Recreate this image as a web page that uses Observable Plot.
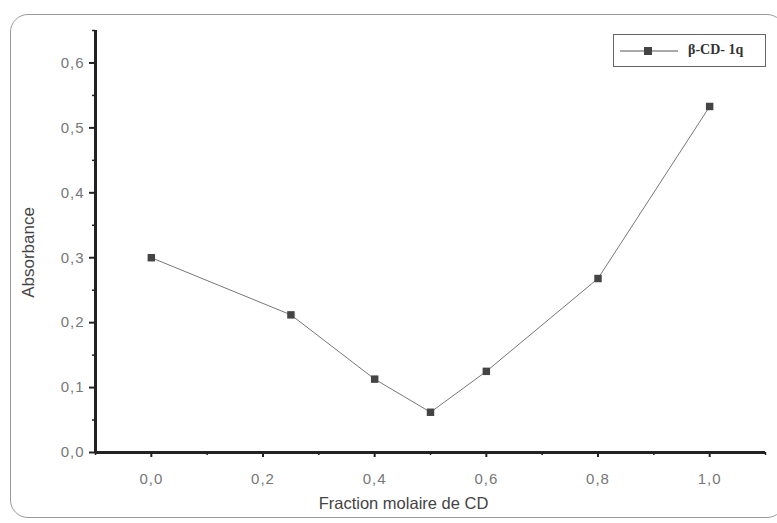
<!DOCTYPE html>
<html><head><meta charset="utf-8">
<script src="https://cdn.jsdelivr.net/npm/d3@7"></script>
<script src="https://cdn.jsdelivr.net/npm/@observablehq/plot@0.6"></script>
<style>
body{margin:0;background:#fff;}
#wrap{position:relative;width:777px;height:523px;overflow:hidden;}
#frame{position:absolute;left:10px;top:14px;width:775px;height:504px;border:1.5px solid #9a9a9a;border-radius:18px;box-sizing:border-box;}
#legend{position:absolute;left:613px;top:34px;width:153px;height:33px;border:1.2px solid #666;box-sizing:border-box;background:#fff;font-family:"Liberation Serif","DejaVu Serif",serif;font-weight:bold;font-size:14px;color:#333;}
#legend svg{position:absolute;left:0;top:0;}
#legend span{position:absolute;left:74px;top:7px;}
#chart svg g[aria-label$="tick label"] text{font-size:15px;letter-spacing:1px;}
</style></head>
<body><div id="wrap"><div id="frame"></div><div id="chart"></div>
<div id="legend"><svg width="75" height="31"><line x1="6" x2="64" y1="16" y2="16" stroke="#555" stroke-width="1"/><rect x="30" y="12" width="8" height="8" fill="#444"/></svg><span>β-CD- 1q</span></div>
</div>
<script>
const fraction = [0.0, 0.25, 0.4, 0.5, 0.6, 0.8, 1.0];
const absorbance = [0.30, 0.212, 0.113, 0.062, 0.125, 0.268, 0.533];
const xTicks = [0.0, 0.2, 0.4, 0.6, 0.8, 1.0];
const xMinor = [-0.1, 0.1, 0.3, 0.5, 0.7, 0.9, 1.1];
const yTicks = [0.0, 0.1, 0.2, 0.3, 0.4, 0.5, 0.6];
const yMinor = [0.05, 0.15, 0.25, 0.35, 0.45, 0.55, 0.65];
const data = fraction.map((f, i) => ({x: f, y: absorbance[i]}));
const fmt = d => d.toFixed(1).replace(".", ",");

const chart = Plot.plot({
  width: 777, height: 523,
  marginLeft: 95, marginRight: 12, marginTop: 30, marginBottom: 71,
  style: {fontFamily: "'Liberation Sans', Arial, sans-serif", fontSize: "14px", color: "#555", background: "transparent"},
  x: {domain: [-0.1, 1.1]},
  y: {domain: [0, 0.65]},
  marks: [
    Plot.axisX(xTicks, {tickSize: 5, tickPadding: 16, tickFormat: fmt, stroke: "#222", strokeWidth: 2, fill: "#777", label: null}),
    Plot.axisX(xMinor, {tickSize: 3, tickFormat: () => "", stroke: "#222", strokeWidth: 1.5, label: null}),
    Plot.axisY(yTicks, {tickSize: 6, tickPadding: 5, tickFormat: fmt, stroke: "#222", strokeWidth: 2, fill: "#777", label: null}),
    Plot.axisY(yMinor, {tickSize: 3, tickFormat: () => "", stroke: "#222", strokeWidth: 1.5, label: null}),
    Plot.ruleY([0], {stroke: "#222", strokeWidth: 3}),
    Plot.ruleX([-0.1], {stroke: "#222", strokeWidth: 3}),
    Plot.line(data, {x: "x", y: "y", stroke: "#777", strokeWidth: 1}),
    Plot.dot(data, {x: "x", y: "y", symbol: "square", r: 4.2, fill: "#444", stroke: "none"}),
    Plot.text(["Fraction molaire de CD"], {frameAnchor: "bottom", dx: -27, dy: 56, fontSize: 16.5, fill: "#444"}),
    Plot.text(["Absorbance"], {frameAnchor: "left", textAnchor: "middle", dx: -67, dy: 11, rotate: -90, fontSize: 17, fill: "#444"})
  ]
});
document.getElementById("chart").appendChild(chart);
</script></body></html>
